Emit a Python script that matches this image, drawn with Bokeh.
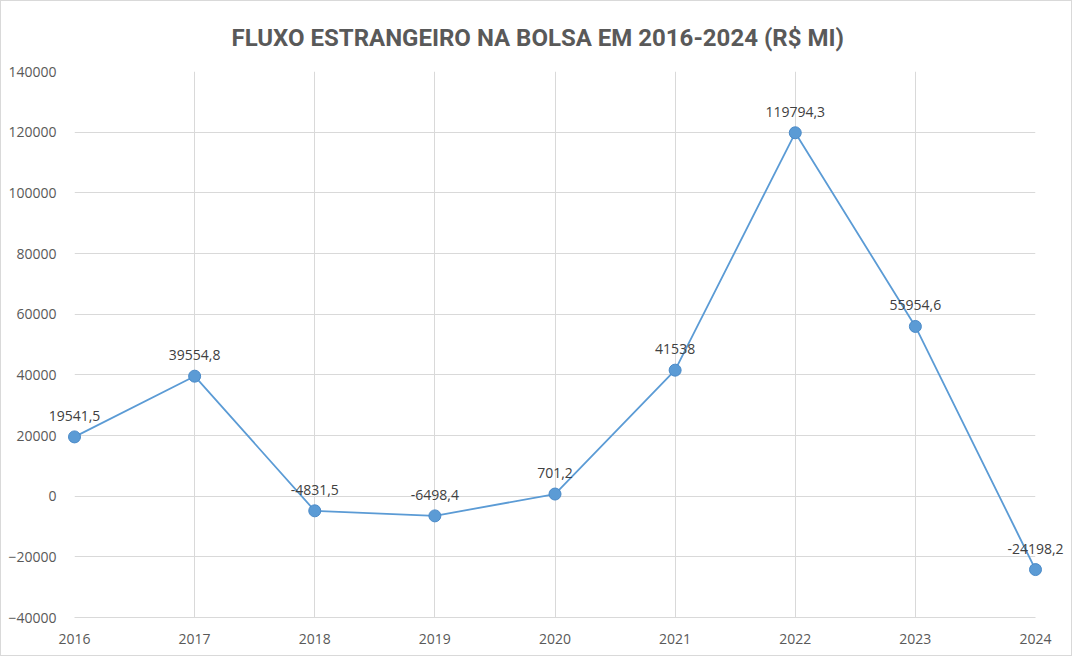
from bokeh.plotting import figure
from bokeh.models import ColumnDataSource, FixedTicker, Range1d
from bokeh.core.properties import value
from bokeh.embed import file_html
from bokeh.resources import INLINE

years = [2016, 2017, 2018, 2019, 2020, 2021, 2022, 2023, 2024]
fluxo = [19541.5, 39554.8, -4831.5, -6498.4, 701.2, 41538, 119794.3, 55954.6, -24198.2]
rotulos = ["19541,5", "39554,8", "-4831,5", "-6498,4", "701,2", "41538", "119794,3", "55954,6", "-24198,2"]
y_ticks = [-40000, -20000, 0, 20000, 40000, 60000, 80000, 100000, 120000, 140000]
titulo = "FLUXO ESTRANGEIRO NA BOLSA EM 2016-2024 (R$ MI)"

src = ColumnDataSource(dict(x=years, y=fluxo, lab=rotulos))

p = figure(width=1072, height=656, output_backend="svg", toolbar_location=None,
           x_range=Range1d(2016, 2024), y_range=Range1d(-40000, 140000),
           min_border_left=73, min_border_right=38, min_border_top=68, min_border_bottom=40,
           title=titulo)
p.styles = {"border": "1px solid #d9d9d9"}
p.outline_line_color = None
p.background_fill_color = "white"
p.border_fill_color = "white"

p.title.align = "left"
p.title.offset = 157
p.title.standoff = 40
p.title.text_font = "Roboto"
p.title.text_font_style = "bold"
p.title.text_font_size = "24px"
p.title.text_color = "#595959"

p.xaxis.ticker = FixedTicker(ticks=years)
p.yaxis.ticker = FixedTicker(ticks=y_ticks)
p.yaxis.formatter.use_scientific = False
for ax in (p.xaxis[0], p.yaxis[0]):
    ax.major_tick_line_color = None
    ax.minor_tick_line_color = None
    ax.major_label_text_color = "#595959"
    ax.major_label_text_font = "Open Sans"
    ax.major_label_text_font_size = "14px"
p.xaxis.axis_line_color = "#d9d9d9"
p.yaxis.axis_line_color = None
p.xaxis.major_label_standoff = 10
p.yaxis.major_label_standoff = 12
p.xgrid.grid_line_color = "#d9d9d9"
p.ygrid.grid_line_color = "#d9d9d9"

ln = p.line("x", "y", source=src, line_color="#5B9BD5", line_width=1.8)
pts = p.scatter("x", "y", source=src, size=12, fill_color="#5B9BD5", line_color="#4A8AC8",
                line_width=1)
txt = p.text("x", "y", text="lab", source=src, text_align="center", text_baseline="bottom",
             y_offset=-16, text_font=value("Open Sans"), text_font_size="14px",
             text_color="#404040")
for r in (ln, pts, txt):
    r.level = "overlay"

open("out.html", "w").write(file_html(p, INLINE))
